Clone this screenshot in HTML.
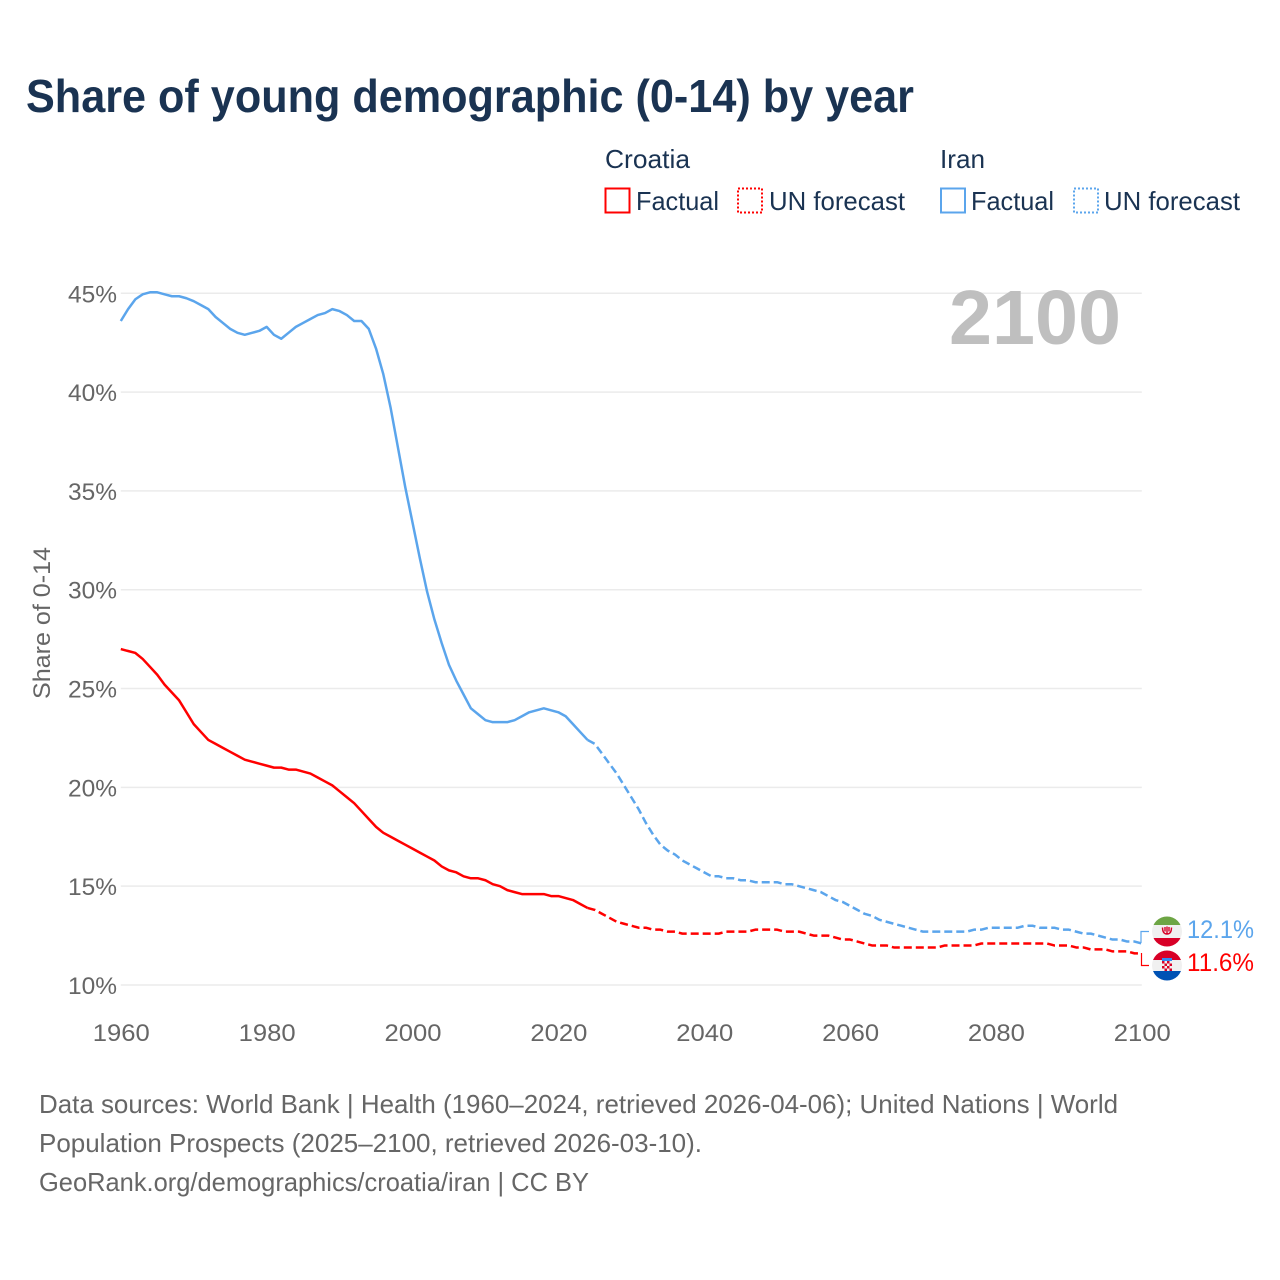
<!DOCTYPE html>
<html lang="en">
<head>
<meta charset="utf-8">
<title>Share of young demographic (0-14) by year</title>
<style>
html,body{margin:0;padding:0;background:#fff;}
svg{display:block;font-family:"Liberation Sans",sans-serif;}
</style>
</head>
<body>
<svg id="chart" xmlns="http://www.w3.org/2000/svg" width="1280" height="1280" viewBox="0 0 1280 1280">
  <rect x="0" y="0" width="1280" height="1280" fill="#ffffff"/>
  <text x="26" y="112" font-size="46" font-weight="700" fill="#1a3352" textLength="888" lengthAdjust="spacingAndGlyphs">Share of young demographic (0-14) by year</text>

  <g font-size="26" fill="#1a3352">
    <text x="605" y="168" textLength="85" lengthAdjust="spacingAndGlyphs">Croatia</text>
    <text x="940" y="168" textLength="45" lengthAdjust="spacingAndGlyphs">Iran</text>
    <rect x="605.5" y="188.5" width="24" height="24" fill="none" stroke="#ff0000" stroke-width="2"/>
    <text x="636" y="210" textLength="83" lengthAdjust="spacingAndGlyphs">Factual</text>
    <rect x="738" y="188.5" width="24" height="24" fill="none" stroke="#ff0000" stroke-width="2" stroke-dasharray="2 2"/>
    <text x="769" y="210" textLength="136" lengthAdjust="spacingAndGlyphs">UN forecast</text>
    <rect x="941" y="188.5" width="24" height="24" fill="none" stroke="#5ba5ec" stroke-width="2"/>
    <text x="971" y="210" textLength="83" lengthAdjust="spacingAndGlyphs">Factual</text>
    <rect x="1074" y="188.5" width="24" height="24" fill="none" stroke="#5ba5ec" stroke-width="2" stroke-dasharray="2 2"/>
    <text x="1104" y="210" textLength="136" lengthAdjust="spacingAndGlyphs">UN forecast</text>
  </g>

  <g id="grid"></g>
  <g id="yticks" font-size="24.5" fill="#666666" text-anchor="end"></g>
  <g id="xticks" font-size="24.5" fill="#666666" text-anchor="middle"></g>
  <text transform="translate(50,623) rotate(-90)" font-size="24.5" fill="#666666" text-anchor="middle" textLength="152" lengthAdjust="spacingAndGlyphs">Share of 0-14</text>
  <text x="949" y="344" font-size="77" font-weight="700" fill="#bfbfbf" textLength="172" lengthAdjust="spacingAndGlyphs">2100</text>

  <g id="series"></g>

  <path d="M1141 943V931.5H1149" fill="none" stroke="#5ba5ec" stroke-width="1.2"/>
  <path d="M1141.5 953V965.5H1149" fill="none" stroke="#ff0000" stroke-width="1.2"/>

  <defs>
    <clipPath id="clip-iran"><circle cx="1167" cy="931.5" r="15"/></clipPath>
    <clipPath id="clip-croatia"><circle cx="1167" cy="965.5" r="15"/></clipPath>
  </defs>
  <g clip-path="url(#clip-iran)">
    <rect x="1152" y="916" width="30" height="31" fill="#f0f0f0"/>
    <rect x="1152" y="916" width="30" height="9" fill="#6da544"/>
    <rect x="1152" y="938" width="30" height="9" fill="#d80027"/>
    <path d="M1162.500 927.500c0 5 2 6.500 4.500 6.500s4.500-1.500 4.500-6.500M1167 926.500v8M1165 927v4.500M1169 927v4.500" fill="none" stroke="#d80027" stroke-width="1.400"/>
  </g>
  <g clip-path="url(#clip-croatia)">
    <rect x="1152" y="950" width="30" height="31" fill="#f0f0f0"/>
    <rect x="1152" y="950" width="30" height="10" fill="#d80027"/>
    <rect x="1152" y="971" width="30" height="10" fill="#0052b4"/>
    <rect x="1162" y="958" width="10" height="3" fill="#338af3"/>
    <rect x="1162" y="961" width="10" height="10" fill="#f0f0f0"/>
    <path d="M1162 961h2.5v2.5h-2.5zM1167 961h2.5v2.5h-2.5zM1164.5 963.5h2.5v2.5h-2.5zM1169.5 963.5h2.5v2.5h-2.5zM1162 966h2.5v2.5h-2.5zM1167 966h2.5v2.5h-2.5zM1164.5 968.500h2.500v2.500h-2.500zM1169.500 968.500h2.500v2.500h-2.500z" fill="#d80027"/>
  </g>
  <text id="label-iran" x="1187" y="938" font-size="25" fill="#5ba5ec" textLength="67" lengthAdjust="spacingAndGlyphs"></text>
  <text id="label-croatia" x="1187" y="971" font-size="25" fill="#ff0000" textLength="67" lengthAdjust="spacingAndGlyphs"></text>

  <g font-size="26" fill="#666666">
    <text x="39" y="1113" textLength="1079" lengthAdjust="spacingAndGlyphs">Data sources: World Bank | Health (1960–2024, retrieved 2026-04-06); United Nations | World</text>
    <text x="39" y="1152" textLength="663" lengthAdjust="spacingAndGlyphs">Population Prospects (2025–2100, retrieved 2026-03-10).</text>
    <text x="39" y="1191" textLength="550" lengthAdjust="spacingAndGlyphs">GeoRank.org/demographics/croatia/iran | CC BY</text>
  </g>
</svg>
<script>
const firstYear = 1960;
const lastFactualYear = 2024;
const yTickValues = [10, 15, 20, 25, 30, 35, 40, 45];
const xTickValues = [1960, 1980, 2000, 2020, 2040, 2060, 2080, 2100];
const iranFactual = [
  43.6,44.2,44.7,44.95,45.05,45.05,44.95,44.85,44.85,44.75,
  44.6,44.4,44.2,43.8,43.5,43.2,43.0,42.9,43.0,43.1,
  43.3,42.9,42.7,43.0,43.3,43.5,43.7,43.9,44.0,44.2,
  44.1,43.9,43.6,43.6,43.2,42.2,40.9,39.2,37.2,35.2,
  33.4,31.6,29.9,28.5,27.3,26.2,25.4,24.7,24.0,23.7,
  23.4,23.3,23.3,23.3,23.4,23.6,23.8,23.9,24.0,23.9,
  23.8,23.6,23.2,22.8,22.4
];
const iranForecast = [
  22.2,21.7,21.2,20.7,20.1,
  19.5,18.9,18.2,17.6,17.1,16.8,16.6,16.3,16.1,15.9,
  15.7,15.5,15.5,15.4,15.4,15.3,15.3,15.2,15.2,15.2,
  15.2,15.1,15.1,15.0,14.9,14.8,14.7,14.5,14.3,14.2,
  14.0,13.8,13.6,13.5,13.3,13.2,13.1,13.0,12.9,12.8,
  12.7,12.7,12.7,12.7,12.7,12.7,12.7,12.8,12.8,12.9,
  12.9,12.9,12.9,12.9,13.0,13.0,12.9,12.9,12.9,12.8,
  12.8,12.7,12.6,12.6,12.5,12.4,12.3,12.3,12.2,12.2,
  12.1
];
const croatiaFactual = [
  27.0,26.9,26.8,26.5,26.1,25.7,25.2,24.8,24.4,23.8,
  23.2,22.8,22.4,22.2,22.0,21.8,21.6,21.4,21.3,21.2,
  21.1,21.0,21.0,20.9,20.9,20.8,20.7,20.5,20.3,20.1,
  19.8,19.5,19.2,18.8,18.4,18.0,17.7,17.5,17.3,17.1,
  16.9,16.7,16.5,16.3,16.0,15.8,15.7,15.5,15.4,15.4,
  15.3,15.1,15.0,14.8,14.7,14.6,14.6,14.6,14.6,14.5,
  14.5,14.4,14.3,14.1,13.9
];
const croatiaForecast = [
  13.8,13.6,13.4,13.2,13.1,
  13.0,12.9,12.9,12.8,12.8,12.7,12.7,12.6,12.6,12.6,
  12.6,12.6,12.6,12.7,12.7,12.7,12.7,12.8,12.8,12.8,
  12.8,12.7,12.7,12.7,12.6,12.5,12.5,12.5,12.4,12.3,
  12.3,12.2,12.1,12.0,12.0,12.0,11.9,11.9,11.9,11.9,
  11.9,11.9,11.9,12.0,12.0,12.0,12.0,12.0,12.1,12.1,
  12.1,12.1,12.1,12.1,12.1,12.1,12.1,12.1,12.0,12.0,
  12.0,11.9,11.9,11.8,11.8,11.8,11.7,11.7,11.7,11.6,
  11.6
];

const SVG_NS = 'http://www.w3.org/2000/svg';
function xScale(year) { return 120.8 + (year - 1960) * (1141.8 - 120.8) / 140; }
function yScale(value) { return 985 - (value - 10) * (985 - 293.3) / 35; }

const grid = document.getElementById('grid');
const yticks = document.getElementById('yticks');
yTickValues.forEach(function (v) {
  const line = document.createElementNS(SVG_NS, 'line');
  
  
  line.setAttribute('x1', xScale(1960));
  line.setAttribute('x2', xScale(2100));
  line.setAttribute('y1', yScale(v));
  line.setAttribute('y2', yScale(v));
  line.setAttribute('stroke', '#ebebeb');
  line.setAttribute('stroke-width', '1.5');
  grid.appendChild(line);
  const t = document.createElementNS(SVG_NS, 'text');
  
  
  t.setAttribute('x', 117);
  t.setAttribute('y', yScale(v) + 9);
  t.setAttribute('textLength', 49);
  t.setAttribute('lengthAdjust', 'spacingAndGlyphs');
  t.textContent = v + '%';
  yticks.appendChild(t);
});

const xticks = document.getElementById('xticks');
xTickValues.forEach(function (y) {
  const t = document.createElementNS(SVG_NS, 'text');
  
  
  t.setAttribute('x', xScale(y) + 0.5);
  t.setAttribute('y', 1041);
  t.setAttribute('textLength', 57);
  t.setAttribute('lengthAdjust', 'spacingAndGlyphs');
  t.textContent = y;
  xticks.appendChild(t);
});

function pointsFrom(values, startYear) {
  return values.map(function (v, i) {
    return xScale(startYear + i).toFixed(2) + ',' + yScale(v).toFixed(2);
  }).join(' ');
}
const seriesGroup = document.getElementById('series');
function drawLine(name, values, startYear, color, dash) {
  const p = document.createElementNS(SVG_NS, 'polyline');
  
  
  p.setAttribute('points', pointsFrom(values, startYear));
  p.setAttribute('fill', 'none');
  p.setAttribute('stroke', color);
  p.setAttribute('stroke-width', '2.5');
  p.setAttribute('stroke-linejoin', 'round');
  if (dash) p.setAttribute('stroke-dasharray', dash);
  seriesGroup.appendChild(p);
}
const joinedIran = iranFactual.slice(-1).concat(iranForecast);
const joinedCroatia = croatiaFactual.slice(-1).concat(croatiaForecast);
drawLine('iran-factual-line', iranFactual, firstYear, '#5ba5ec', null);
drawLine('iran-forecast-line', joinedIran, lastFactualYear, '#5ba5ec', '8 4');
drawLine('croatia-factual-line', croatiaFactual, firstYear, '#ff0000', null);
drawLine('croatia-forecast-line', joinedCroatia, lastFactualYear, '#ff0000', '8 4');

document.getElementById('label-iran').textContent = iranForecast[iranForecast.length - 1].toFixed(1) + '%';
document.getElementById('label-croatia').textContent = croatiaForecast[croatiaForecast.length - 1].toFixed(1) + '%';
</script>
</body>
</html>
